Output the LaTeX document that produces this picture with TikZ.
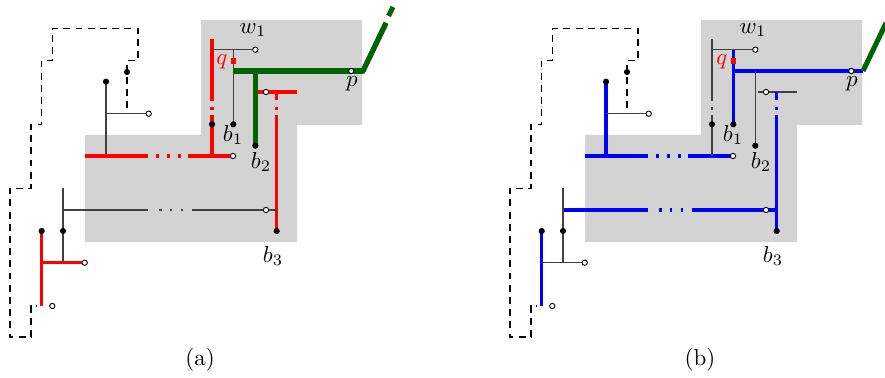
\documentclass[tikz,border=0pt]{standalone}
\definecolor{regiongray}{RGB}{211,211,211}
\definecolor{dkgreen}{RGB}{0,100,0}
\newcommand\panelbody{%
  % shaded region
  \fill[regiongray] (85,135) -- (201,135) -- (201,20) -- (362,20) -- (362,125) -- (297,125) -- (297,242) -- (85,242) -- cycle;
  % dashed boundary
  \draw[bnd] (127,108) -- (127,60.3) -- (138,60.3) -- (138,28.3) -- (52.7,28.3) -- (52.7,60.3) -- (41.7,60.3) -- (41.7,124.3) -- (31,124.3) -- (31,188.3) -- (10,188.3) -- (10,337) -- (31,337) -- (31,306) -- (37,306);
  % points
  \coordinate (d1) at (106,81.7);
  \coordinate (d2) at (127,72);
  \coordinate (d3) at (212,124.3);
  \coordinate (b1) at (233.3,124.3);
  \coordinate (b2) at (255.3,145.7);
  \coordinate (b3) at (276.7,231);
  \coordinate (d4) at (63,231);
  \coordinate (d5) at (41.7,231);
  \coordinate (o1) at (148.7,113.7);
  \coordinate (o2) at (233,156);
  \coordinate (w1) at (255.3,49.7);
  \coordinate (p) at (351.3,71);
  \coordinate (o3) at (266,92);
  \coordinate (o4) at (266,210);
  \coordinate (o5) at (84.7,262.7);
  \coordinate (o6) at (52.3,306);
  \coordinate (bend) at (363,71);
  \coordinate (gtop) at (386,23);
  % segments
  \draw[segA] (d1) -- (106,156);
  \draw[thinl] (106,113.7) -- (o1);
  \draw[segB] (85,156) -- (148.3,156) (156,156) -- (158.7,156) (167.3,156) -- (170,156) (178,156) -- (180.7,156) (188.3,156) -- (o2);
  \draw[segC] (212,39.3) -- (212,101) (212,107) -- (212,110) (212,115) -- (212,156);
  \draw[thinl] (212,49.7) -- (w1);
  \draw[segD] (233.3,49.7) -- (b1);
  \draw[segE] (233.3,71) -- (bend);
  \draw[grnl] (bend) -- (gtop);
  \draw[segF] (255.3,71) -- (b2);
  \draw[segG] (258.3,92) -- (297.3,92);
  \draw[segH] (276.7,92) -- (276.7,100) (276.7,107) -- (276.7,110) (276.7,115) -- (b3);
  \draw[segI] (63,210) -- (148.3,210) (159,210) -- (161.5,210) (169.5,210) -- (172,210) (180.5,210) -- (183,210) (191.7,210) -- (276.7,210);
  \draw[thinl] (63,188.3) -- (63,262.7);
  \draw[segJ] (d5) -- (41.7,306);
  \draw[segK] (41.7,262.7) -- (o5);
  % marks
  \foreach \n in {d1,d2,d3,b1,b2,b3,d4,d5} \node[dotn] (m-\n) at (\n) {};
  \foreach \n in {o1,o2,w1,p,o3,o4,o5,o6} \node[odot] (m-\n) at (\n) {};
  \node[sq] (qsq) at (233.3,61) {};
  \node[lbl,red] (lq) at (222,62) {$q$};
  \node[lbl] (lw1) at (253,30) {$w_1$};
  \node[lbl] (lb1) at (233,135) {$b_1$};
  \node[lbl] (lb2) at (261,162) {$b_2$};
  \node[lbl] (lb3) at (273,256) {$b_3$};
  \node[lbl] (lp) at (352,83.5) {$p$};
}
\begin{document}
\begin{tikzpicture}[x=0.435pt,y=-0.435pt,
  thinl/.style={line width=0.55pt,black!75},
  thickl/.style={line width=1.45pt},
  grnl/.style={line width=2.2pt,dkgreen},
  bnd/.style={line width=0.45pt,dash pattern=on 3pt off 2.3pt},
  dotn/.style={circle,fill=black,inner sep=0pt,minimum size=2.7pt},
  odot/.style={circle,draw=black,fill=white,line width=0.4pt,inner sep=0pt,minimum size=2.3pt},
  sq/.style={rectangle,fill=red,inner sep=0pt,minimum size=2.2pt},
  lbl/.style={inner sep=0pt}]
\useasboundingbox (0,0) rectangle (885,378);
\begin{scope}[name prefix=a-,
  segA/.style=thinl, segB/.style={thickl,red}, segC/.style={thickl,red},
  segD/.style=thinl, segE/.style=grnl, segF/.style=grnl, segG/.style={thickl,red},
  segH/.style={thickl,red}, segI/.style=thinl, segJ/.style={thickl,red}, segK/.style={thickl,red}]
  \panelbody
  \coordinate (gd1) at (388.5,16);
  \coordinate (gd2) at (393,7);
  \draw[grnl] (340,71) -- (bend) -- (gtop);
  \draw[grnl] (gd1) -- (gd2);
  \node[odot] (pp) at (p) {};
  \node[lbl] (cap) at (200,359.5) {(a)};
\end{scope}
\begin{scope}[shift={(500,0)},name prefix=b-,
  segA/.style={thickl,blue}, segB/.style={thickl,blue}, segC/.style=thinl,
  segD/.style={thickl,blue}, segE/.style={thickl,blue}, segF/.style=thinl, segG/.style=thinl,
  segH/.style={thickl,blue}, segI/.style={thickl,blue}, segJ/.style={thickl,blue}, segK/.style=thinl]
  \panelbody
  \node[odot] (pp) at (p) {};
  \node[lbl] (cap) at (200,359.5) {(b)};
\end{scope}
\end{tikzpicture}
\end{document}
